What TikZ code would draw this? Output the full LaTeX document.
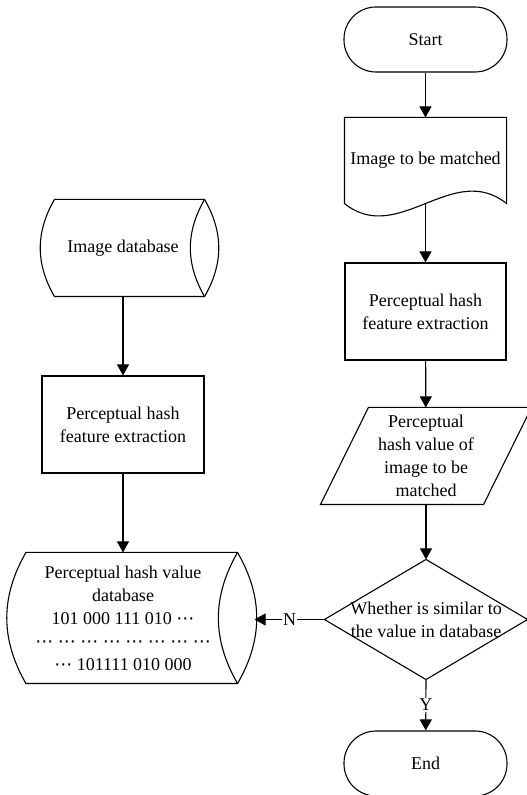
\documentclass[tikz,border=0pt]{standalone}
\usepackage{fontspec}
\setmainfont{Liberation Serif}
\newfontfamily\dotsfont{DejaVu Sans}
\usetikzlibrary{calc,arrows.meta}

\newcommand{\hdots}{{\dotsfont ⋯}}

\begin{document}
\begin{tikzpicture}[x=1pt, y=1pt, font=\fontsize{18}{23}\selectfont, line width=1.1pt,
  box/.style={draw, minimum width=161pt, minimum height=97pt, align=center, inner sep=0pt},
  term/.style={draw, rounded corners=32pt, minimum width=163pt, minimum height=65pt},
  plain/.style={inner sep=0pt, align=center},
  arr/.style={-{Triangle[length=11pt,width=12pt]}},
  lbl/.style={fill=white, inner sep=1pt}]
  \useasboundingbox (0,0) rectangle (527,795);
  % right column: image to be matched
  \node[term] (start) at (425.5,755.5) {Start};
  \node[plain, minimum width=161pt, minimum height=85pt] (img) at (425.5,634.5) {Image to be matched};
  \draw (img.south west) -- (img.north west) -- (img.north east) -- (img.south east)
    .. controls ($(img.south east)+(-53.7,43)$) and ($(img.south west)+(53.7,-43)$) .. (img.south west);
  \node[box] (fexr) at (425.5,483.5) {Perceptual hash\\feature extraction};
  \node[plain, minimum width=162pt, minimum height=96pt] (hashv) at (426,339)
    {Perceptual\\hash value of\\image to be\\matched};
  \draw ($(hashv.north west)+(24,0)$) -- ($(hashv.north east)+(24,0)$)
    -- ($(hashv.south east)+(-24,0)$) -- ($(hashv.south west)+(-24,0)$) -- cycle;
  \node[plain, minimum width=202pt, minimum height=119pt] (cmp) at (426,175.5)
    {Whether is similar to\\the value in database};
  \draw (cmp.north) -- (cmp.east) -- (cmp.south) -- (cmp.west) -- cycle;
  \node[term] (stop) at (425.5,31.5) {End};
  % left column: image database
  \node[plain, minimum width=162pt, minimum height=96pt] (imgdb) at (123,547) {Image database};
  \draw ($(imgdb.north west)+(13,0)$) -- (imgdb.north east) to[bend left=30] (imgdb.south east)
    -- ($(imgdb.south west)+(13,0)$) to[bend left=30] ($(imgdb.north west)+(13,0)$) -- cycle;
  \draw (imgdb.north east) to[bend right=30] (imgdb.south east);
  \node[box, minimum width=162pt] (fexl) at (123,370.5) {Perceptual hash\\feature extraction};
  \node[plain, minimum width=228pt, minimum height=130pt] (hashdb) at (123,177)
    {Perceptual hash value\\database\\101 000 111 010 \hdots\\
     \hdots\ \hdots\ \hdots\ \hdots\ \hdots\ \hdots\ \hdots\ \hdots\\
     \hdots\ 101111 010 000};
  \draw ($(hashdb.north west)+(17.5,0)$) -- (hashdb.north east) to[bend left=30] (hashdb.south east)
    -- ($(hashdb.south west)+(17.5,0)$) to[bend left=30] ($(hashdb.north west)+(17.5,0)$) -- cycle;
  \draw (hashdb.north east) to[bend right=30] (hashdb.south east);
  \coordinate (dbin) at ($(hashdb.east)+(17,0)$);
  % connectors
  \draw[arr] (start) -- (img);
  \draw[arr] (img.south) -- (fexr);
  \draw[arr] (fexr) -- (hashv);
  \draw[arr] (hashv) -- (cmp.north);
  \draw[arr] (cmp.south) -- node[lbl] {Y} (stop);
  \draw[arr] (cmp.west) -- node[lbl] {N} (cmp.west -| dbin);
  \draw[arr] (imgdb) -- (fexl);
  \draw[arr] (fexl) -- (hashdb);
\end{tikzpicture}
\end{document}
